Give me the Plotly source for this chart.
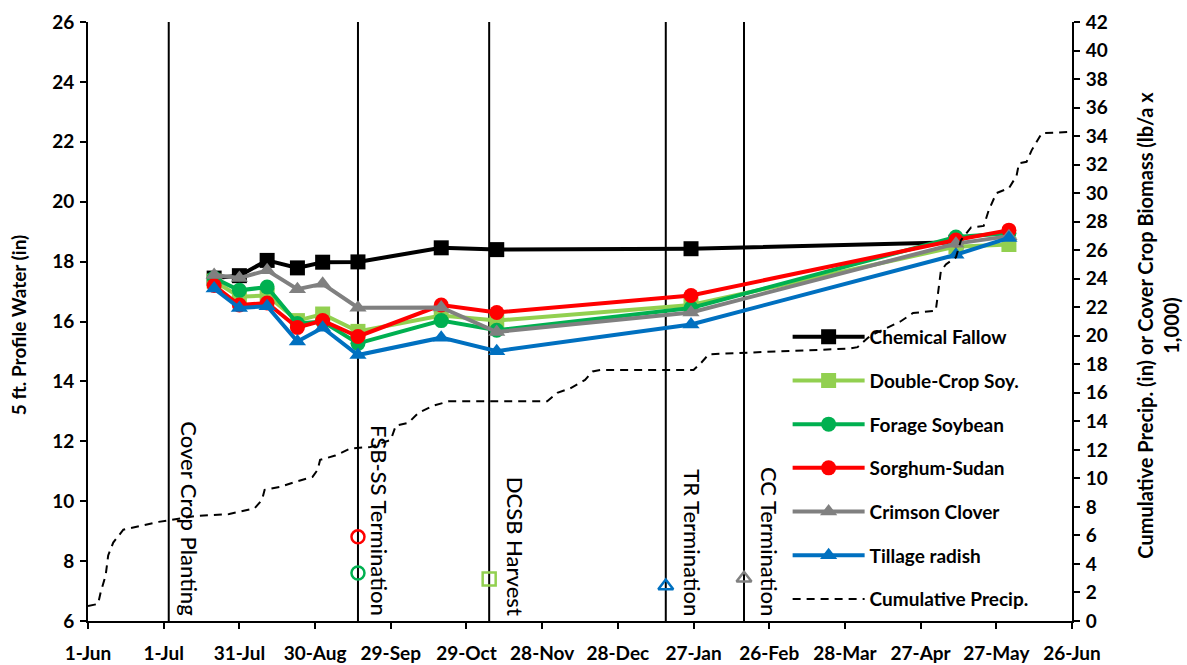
import plotly.graph_objects as go
import pandas as pd

START = pd.Timestamp("2014-06-01")


def to_dates(days):
    return [START + pd.Timedelta(days=int(v)) for v in days]


# ---------------- data (days after 1-Jun) ----------------
tick_days = [0, 30, 60, 90, 120, 150, 180, 210, 240, 270, 300, 330, 360, 390]
tick_labels = ["1-Jun", "1-Jul", "31-Jul", "30-Aug", "29-Sep", "29-Oct", "28-Nov",
               "28-Dec", "27-Jan", "26-Feb", "28-Mar", "27-Apr", "27-May", "26-Jun"]

sample_days = [50, 60, 71, 83, 93, 107, 140, 162, 239, 344, 365]
chemical_fallow = [17.45, 17.53, 18.04, 17.79, 17.98, 17.99, 18.46, 18.40, 18.43, 18.65, None]
double_crop_soy = [17.35, 16.83, 16.87, 16.03, 16.25, 15.67, 16.20, 16.03, 16.55, 18.50, 18.57]
forage_soybean = [17.45, 17.04, 17.15, 15.93, 16.00, 15.27, 16.03, 15.71, 16.45, 18.82, 18.95]
sorghum_sudan = [17.20, 16.55, 16.62, 15.80, 16.03, 15.50, 16.55, 16.30, 16.87, 18.72, 19.05]
crimson_clover = [17.55, 17.45, 17.71, 17.08, 17.26, 16.46, 16.47, 15.65, 16.30, 18.60, 18.85]
tillage_radish = [17.10, 16.45, 16.51, 15.33, 15.79, 14.88, 15.46, 15.01, 15.90, 18.23, 18.79]

precip_days = [0, 4, 5, 7, 8, 10, 14, 19, 25, 28, 42, 56, 66, 69, 70, 76, 83, 89, 91, 92,
               98, 104, 112, 120, 122, 127, 131, 137, 143, 182, 186, 191, 197, 200, 203,
               240, 243, 246, 252, 302, 305, 310, 322, 327, 336, 337, 338, 340, 344, 346,
               350, 355, 357, 360, 365, 368, 369, 372, 374, 378, 390]
cumulative_precip = [1.05, 1.2, 2.0, 3.2, 4.6, 5.5, 6.4, 6.6, 6.8, 6.95, 7.35, 7.5, 7.9, 8.5,
                     9.2, 9.4, 9.8, 10.1, 10.6, 11.3, 11.6, 12.1, 12.2, 12.7, 13.7, 13.9,
                     14.6, 15.1, 15.4, 15.4, 16.0, 16.3, 16.9, 17.5, 17.6, 17.6, 18.1, 18.7,
                     18.75, 19.1, 19.2, 20.0, 21.0, 21.6, 21.75, 23.2, 24.5, 25.0, 25.5,
                     26.7, 27.6, 27.7, 28.8, 30.0, 30.35, 31.2, 32.1, 32.2, 33.0, 34.2, 34.3]

event_days = [32, 107, 159, 229, 260]
event_labels = ["Cover Crop Planting", "FSB-SS Termination", "DCSB Harvest",
                "TR Termination", "CC Termination"]

# cover crop biomass (lb/a x 1,000) at termination
biomass_days = [107, 107, 159, 229, 260]
biomass_values = [5.9, 3.37, 2.95, 2.45, 3.0]
biomass_colors = ["#FF0000", "#00B050", "#92D050", "#0070C0", "#808080"]
biomass_symbols = ["circle-open", "circle-open", "square-open", "triangle-up-open",
                   "triangle-up-open"]

series = [
    ("Chemical Fallow", chemical_fallow, "#000000", "square"),
    ("Double-Crop Soy.", double_crop_soy, "#92D050", "square"),
    ("Forage Soybean", forage_soybean, "#00B050", "circle"),
    ("Sorghum-Sudan", sorghum_sudan, "#FF0000", "circle"),
    ("Crimson Clover", crimson_clover, "#808080", "triangle-up"),
    ("Tillage radish", tillage_radish, "#0070C0", "triangle-up"),
]

FONT = "Lato"
fig = go.Figure()

for i, (name, vals, color, sym) in enumerate(series):
    fig.add_trace(go.Scatter(
        x=to_dates(sample_days), y=vals, name=name, mode="lines+markers",
        line=dict(color=color, width=4),
        marker=dict(symbol=sym, size=15, color=color),
        legendgroup=f"g{i}", connectgaps=False,
    ))

fig.add_trace(go.Scatter(
    x=to_dates(precip_days), y=cumulative_precip, name="Cumulative Precip.",
    mode="lines", line=dict(color="black", width=2, dash="8px,6px"),
    yaxis="y2", legendgroup="g6",
))

fig.add_trace(go.Scatter(
    x=to_dates(biomass_days), y=biomass_values, mode="markers", yaxis="y2",
    marker=dict(symbol=biomass_symbols, size=13, color=biomass_colors,
                line=dict(color=biomass_colors, width=2.5)),
    showlegend=False,
))

shapes = []
annotations = []
xshifts = [5, 6, 11, 11, 10]
for dday, label, xs in zip(event_days, event_labels, xshifts):
    dt = START + pd.Timedelta(days=dday)
    shapes.append(dict(type="line", xref="x", yref="paper", x0=dt, x1=dt, y0=0, y1=1,
                       line=dict(color="black", width=2), layer="below"))
    annotations.append(dict(
        x=dt, xref="x", y=0.005, yref="paper", text=label, showarrow=False,
        textangle=90, xanchor="left", yanchor="bottom", xshift=xs,
        font=dict(family=FONT, size=22, color="black", weight=500),
    ))

annotations.append(dict(
    x=-0.071, xref="paper", y=0.494, yref="paper", text="5 ft. Profile Water (in)",
    showarrow=False, textangle=-90, xanchor="center", yanchor="middle",
    font=dict(family=FONT, size=19, color="black", weight="bold"),
))
annotations.append(dict(
    x=1.087, xref="paper", y=0.494, yref="paper",
    text="Cumulative Precip. (in) or Cover Crop Biomass (lb/a x<br>1,000)",
    showarrow=False, textangle=-90, xanchor="center", yanchor="middle", align="center",
    font=dict(family=FONT, size=20, color="black", weight="bold"),
))

tickfont = dict(family=FONT, size=19, color="black", weight="bold")

fig.update_layout(
    width=1187, height=665,
    margin=dict(l=88, r=115, t=22, b=44, autoexpand=False),
    paper_bgcolor="white", plot_bgcolor="white",
    font=dict(family=FONT, color="black"),
    xaxis=dict(
        type="date",
        range=[START, START + pd.Timedelta(days=390)],
        tickvals=to_dates(tick_days), ticktext=tick_labels,
        showline=True, linecolor="black", linewidth=2,
        ticks="outside", ticklen=6, tickwidth=2, tickcolor="black",
        showgrid=False, zeroline=False, tickfont=tickfont, ticklabelstandoff=8,
        automargin=False,
    ),
    yaxis=dict(
        range=[6, 26], dtick=2, tick0=6,
        showline=True, linecolor="black", linewidth=2,
        ticks="outside", ticklen=6, tickwidth=2, tickcolor="black",
        showgrid=False, zeroline=False, tickfont=tickfont, ticklabelstandoff=2,
        automargin=False,
    ),
    yaxis2=dict(
        range=[0, 42], dtick=2, tick0=0, overlaying="y", side="right",
        showline=True, linecolor="black", linewidth=2,
        ticks="outside", ticklen=6, tickwidth=2, tickcolor="black",
        showgrid=False, zeroline=False, tickfont=tickfont, ticklabelstandoff=2,
        automargin=False,
    ),
    legend=dict(
        x=0.711, y=0.506, xanchor="left", yanchor="top",
        bgcolor="rgba(0,0,0,0)", borderwidth=0,
        font=dict(family=FONT, size=19, color="black", weight="bold"),
        traceorder="grouped", tracegroupgap=16, itemwidth=72,
    ),
    shapes=shapes,
    annotations=annotations,
    hovermode=False,
)

fig.write_html("out.html", config={"displayModeBar": False},
               post_script="document.body.style.margin='0';")
